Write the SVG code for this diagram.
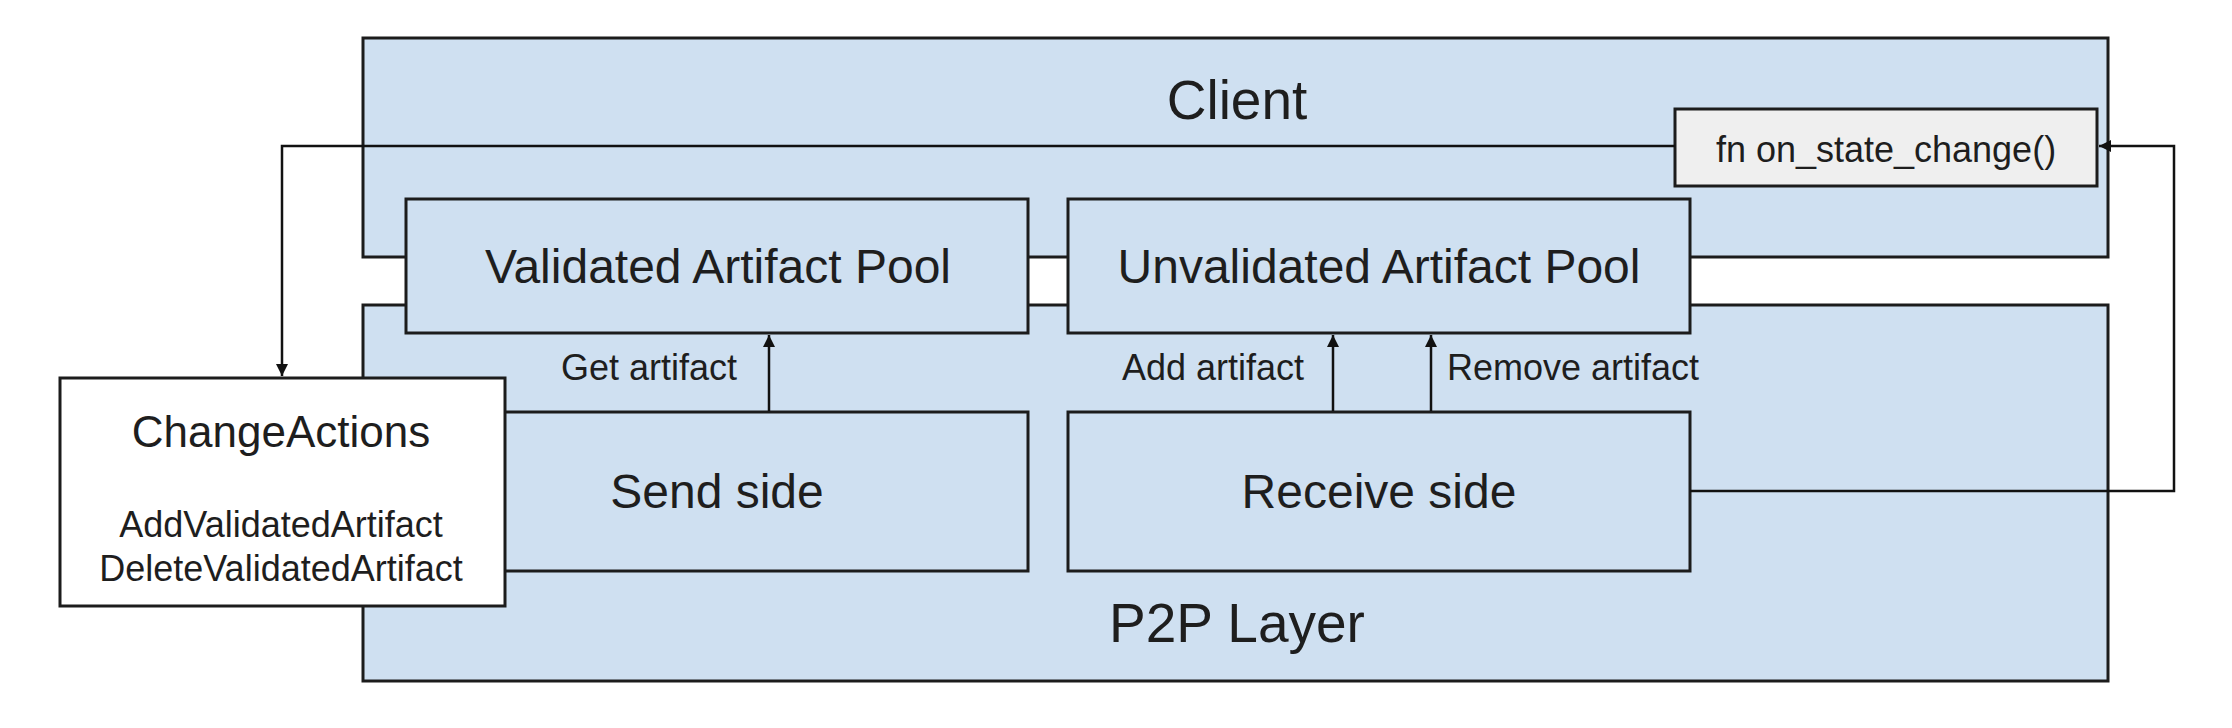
<svg xmlns="http://www.w3.org/2000/svg" width="2232" height="728" viewBox="0 0 2232 728">
<defs>
<style>
.box{fill:#cfe0f1;stroke:#1c1c1c;stroke-width:3}
.wbox{fill:#ffffff;stroke:#1c1c1c;stroke-width:3}
.gbox{fill:#efefef;stroke:#1c1c1c;stroke-width:3}
.t{font-family:"Liberation Sans",Arial,sans-serif;fill:#1e1e1e;text-anchor:middle}
.big{font-size:55px}
.mid{font-size:48px}
.ca{font-size:44px}
.sm{font-size:36px}
.conn{fill:none;stroke:#111;stroke-width:2.5}
</style>
<marker id="ah" viewBox="0 0 10 10" refX="10" refY="5" markerWidth="12" markerHeight="12" markerUnits="userSpaceOnUse" orient="auto">
<path d="M0,0 L10,5 L0,10 z" fill="#111"/>
</marker>
</defs>
<rect width="2232" height="728" fill="#ffffff"/>
<g id="client">
<rect class="box" x="363" y="38" width="1745" height="219"/>
<text class="t big" x="1237" y="119">Client</text>
</g>
<g id="p2p">
<rect class="box" x="363" y="305" width="1745" height="376"/>
<text class="t big" x="1237" y="642">P2P Layer</text>
</g>
<g id="validated">
<rect class="box" x="406" y="199" width="622" height="134"/>
<text class="t mid" x="718" y="283">Validated Artifact Pool</text>
</g>
<g id="unvalidated">
<rect class="box" x="1068" y="199" width="622" height="134"/>
<text class="t mid" x="1379" y="283">Unvalidated Artifact Pool</text>
</g>
<g id="send">
<rect class="box" x="406" y="412" width="622" height="159"/>
<text class="t mid" x="717" y="508">Send side</text>
</g>
<g id="receive">
<rect class="box" x="1068" y="412" width="622" height="159"/>
<text class="t mid" x="1379" y="508">Receive side</text>
</g>
<g id="onstate">
<rect class="gbox" x="1675" y="109" width="422" height="77"/>
<text class="t sm" x="1886" y="162">fn on_state_change()</text>
</g>
<g id="changeactions">
<rect class="wbox" x="60" y="378" width="445" height="228"/>
<text class="t ca" x="281" y="447">ChangeActions</text>
<text class="t sm" x="281" y="537">AddValidatedArtifact</text>
<text class="t sm" x="281" y="581">DeleteValidatedArtifact</text>
</g>
<g id="connectors">
<path class="conn" d="M1675,146 H282 V376" marker-end="url(#ah)"/>
<path class="conn" d="M1690,491 H2174 V146 H2099" marker-end="url(#ah)"/>
<path class="conn" d="M769,411 V335" marker-end="url(#ah)"/>
<path class="conn" d="M1333,411 V335" marker-end="url(#ah)"/>
<path class="conn" d="M1431,411 V335" marker-end="url(#ah)"/>
<text class="t sm" x="737" y="380" style="text-anchor:end">Get artifact</text>
<text class="t sm" x="1304" y="380" style="text-anchor:end">Add artifact</text>
<text class="t sm" x="1447" y="380" style="text-anchor:start">Remove artifact</text>
</g>
</svg>
